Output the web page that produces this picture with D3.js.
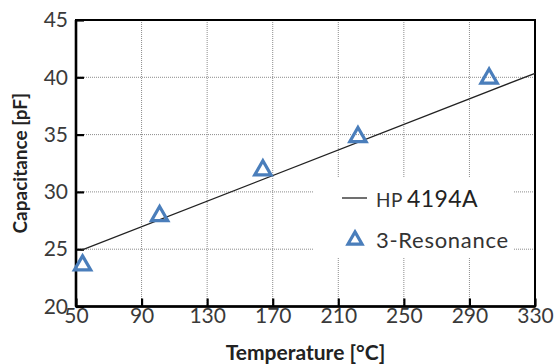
<!DOCTYPE html>
<meta charset="utf-8">
<script src="https://d3js.org/d3.v7.min.js"></script>
<style>
body { margin: 0; background: #fff; }
text { font-family: Lato, "Open Sans", sans-serif; }
</style>
<body>
<div id="chart"></div>
<script>
// data
var xTicks = [50, 90, 130, 170, 210, 250, 290, 330];
var yTicks = [20, 25, 30, 35, 40, 45];
// HP 4194A fitted line (temperature, capacitance)
var hpTemp = [53, 330];
var hpCap = [24.9, 40.35];
// 3-Resonance measurements
var resTemp = [54, 101, 164, 222, 302];
var resCap = [23.6, 27.9, 31.9, 34.8, 39.9];

var W = 554, H = 364;
var margin = {top: 20, right: 19, bottom: 57.5, left: 76},
  width = W - margin.left - margin.right,
  height = H - margin.top - margin.bottom;

var svg = d3.select("#chart").append("svg")
  .attr("width", W).attr("height", H)
  .append("g")
  .attr("transform", "translate(" + margin.left + "," + margin.top + ")");

var x = d3.scaleLinear().domain([50, 330]).range([0, width]);
var y = d3.scaleLinear().domain([20, 45]).range([height, 0]);

// grid
svg.selectAll(".vgrid").data(xTicks.slice(1, -1)).enter().append("line")
  .attr("x1", d => x(d)).attr("x2", d => x(d))
  .attr("y1", 0).attr("y2", height)
  .style("stroke", "#8c8c8c").style("stroke-width", 1).style("stroke-dasharray", "1,1");
svg.selectAll(".hgrid").data(yTicks.slice(1, -1)).enter().append("line")
  .attr("x1", 0).attr("x2", width)
  .attr("y1", d => y(d)).attr("y2", d => y(d))
  .style("stroke", "#8c8c8c").style("stroke-width", 1).style("stroke-dasharray", "1,1");

// legend background covers grid
svg.append("rect")
  .attr("x", 313 - margin.left).attr("y", 178 - margin.top)
  .attr("width", 200).attr("height", 80)
  .style("fill", "#fff");

// axes with inward ticks
var xAxis = svg.append("g").attr("transform", "translate(0," + height + ")")
  .call(d3.axisBottom(x).tickValues(xTicks).tickSize(-8).tickPadding(9).tickFormat(d3.format("d")));
var yAxis = svg.append("g")
  .call(d3.axisLeft(y).tickValues(yTicks).tickSize(-8).tickPadding(8).tickFormat(d3.format("d")));
[xAxis, yAxis].forEach(function(a) {
  a.select(".domain").remove();
  a.selectAll(".tick line").style("stroke", "#000").style("stroke-width", 2.2);
  a.selectAll(".tick text").style("font-size", "21px").style("fill", "#3a3a3a")
    .style("font-family", "Lato, sans-serif");
});
xAxis.selectAll(".tick text").attr("dy", "0.35em");

// frame
svg.append("rect").attr("x", 0).attr("y", 0).attr("width", width).attr("height", height)
  .style("fill", "none").style("stroke", "#000").style("stroke-width", 2);
svg.append("line").attr("x1", 0).attr("x2", 0).attr("y1", 0).attr("y2", height)
  .style("stroke", "#000").style("stroke-width", 2.6);
svg.append("line").attr("x1", 0).attr("x2", width).attr("y1", height).attr("y2", height)
  .style("stroke", "#000").style("stroke-width", 2.6);

// HP line
var hpData = hpTemp.map((t, i) => [t, hpCap[i]]);
svg.append("path").datum(hpData)
  .attr("d", d3.line().x(d => x(d[0])).y(d => y(d[1])))
  .style("fill", "none").style("stroke", "#222").style("stroke-width", 1.3);

// 3-Resonance triangles
var tri = d3.symbol().type(d3.symbolTriangle).size(115);
var resData = resTemp.map((t, i) => [t, resCap[i]]);
svg.selectAll(".res").data(resData).enter().append("path")
  .attr("d", tri)
  .attr("transform", d => "translate(" + x(d[0]) + "," + y(d[1]) + ")")
  .style("fill", "none").style("stroke", "#4a7ebb").style("stroke-width", 3.2);

// legend
var lg = svg.append("g").attr("transform", "translate(" + (313 - margin.left) + "," + (178 - margin.top) + ")");
lg.append("line").attr("x1", 29).attr("x2", 54).attr("y1", 20).attr("y2", 20)
  .style("stroke", "#222").style("stroke-width", 1.3);
var t1 = lg.append("text").attr("x", 63).attr("y", 29).style("fill", "#222");
t1.append("tspan").style("font-size", "19px").style("fill", "#333").style("letter-spacing", "0.5px").text("HP");
t1.append("tspan").attr("dx", 4).style("font-size", "23px").style("letter-spacing", "0.4px").text("4194A");
lg.append("path").attr("d", d3.symbol().type(d3.symbolTriangle).size(85))
  .attr("transform", "translate(42,62)")
  .style("fill", "none").style("stroke", "#4a7ebb").style("stroke-width", 3.2);
lg.append("text").attr("x", 63).attr("y", 70).style("font-size", "22px").style("fill", "#333")
  .style("letter-spacing", "0.7px").text("3-Resonance");

// axis titles
svg.append("text").attr("x", width / 2).attr("y", height + 53)
  .attr("text-anchor", "middle").style("font-size", "21px").style("font-weight", "bold")
  .style("fill", "#222").text("Temperature [°C]");
svg.append("text").attr("transform", "translate(" + (-margin.left + 27) + "," + (height / 2) + ") rotate(-90)")
  .attr("text-anchor", "middle").style("font-size", "19px").style("font-weight", "bold")
  .style("fill", "#222").text("Capacitance [pF]");
</script>
</body>
